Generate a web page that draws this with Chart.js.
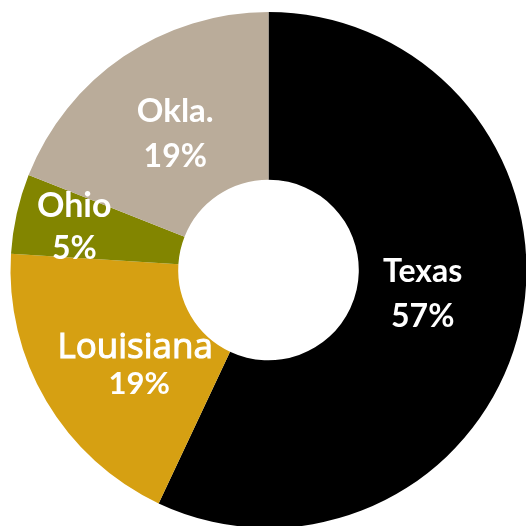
<!DOCTYPE html>
<html>
<head>
<meta charset="utf-8">
<script src="https://cdn.jsdelivr.net/npm/chart.js@4"></script>
<style>
  html, body { margin: 0; padding: 0; background: #ffffff; overflow: hidden; }
  #wrap { position: absolute; left: 0; top: 0; width: 540px; height: 540px; }
</style>
</head>
<body>
<div id="wrap"><canvas id="chart" width="540" height="540"></canvas></div>
<script>
// Share of output by state (%)
const states = ['Texas', 'Louisiana', 'Ohio', 'Okla.'];
const shares = [57, 19, 5, 19];
const sliceColors = ['#000000', '#d6a012', '#828500', '#baac9a'];

// Draw "name / pct%" inside each slice
const sliceLabels = {
  id: 'sliceLabels',
  afterDatasetsDraw(chart, args, opts) {
    const ctx = chart.ctx;
    const meta = chart.getDatasetMeta(0);
    meta.data.forEach((arc, i) => {
      const p = arc.getProps(['x', 'y', 'startAngle', 'endAngle'], true);
      const mid = (p.startAngle + p.endAngle) / 2;
      const s = opts.spots[i];
      const cx = p.x + Math.cos(mid) * s.r + s.dx;
      const cy = p.y + Math.sin(mid) * s.r + s.dy;
      ctx.save();
      ctx.fillStyle = '#ffffff';
      ctx.strokeStyle = '#ffffff';
      ctx.textAlign = 'center';
      ctx.textBaseline = 'alphabetic';
      ctx.font = s.nameFont;
      ctx.fillText(chart.data.labels[i], cx, cy - s.gap / 2);
      if (s.thicken) {
        // no medium weight installed, fatten the regular face a bit
        ctx.lineWidth = s.thicken;
        ctx.strokeText(chart.data.labels[i], cx, cy - s.gap / 2);
      }
      ctx.font = s.pctFont;
      ctx.fillText(shares[i] + '%', cx + (s.pctDx || 0), cy + s.gap / 2);
      ctx.restore();
    });
  }
};

new Chart(document.getElementById('chart'), {
  type: 'doughnut',
  data: {
    labels: states,
    datasets: [{
      data: shares,
      backgroundColor: sliceColors,
      borderWidth: 0
    }]
  },
  options: {
    responsive: false,
    animation: false,
    cutout: '35%',
    layout: {
      padding: { left: 10.5, top: 12, right: 13.5, bottom: 12 }
    },
    plugins: {
      legend: { display: false },
      tooltip: { enabled: false },
      sliceLabels: {
        spots: [
          { r: 158, dx: 0, dy: 0, gap: 45, nameFont: 'bold 32px Lato', pctFont: 'bold 32px Lato' },
          { r: 170, dx: 13, dy: 19, gap: 36, nameFont: '35px "Open Sans"', thicken: 1.1, pctFont: 'bold 31px Lato', pctDx: 4 },
          { r: 198, dx: -1, dy: 11, gap: 42, nameFont: 'bold 34px Lato', pctFont: 'bold 32px Lato' },
          { r: 157, dx: -5, dy: 4, gap: 45, nameFont: 'bold 33px Lato', pctFont: 'bold 32px Lato' }
        ]
      }
    }
  },
  plugins: [sliceLabels]
});
</script>
</body>
</html>
